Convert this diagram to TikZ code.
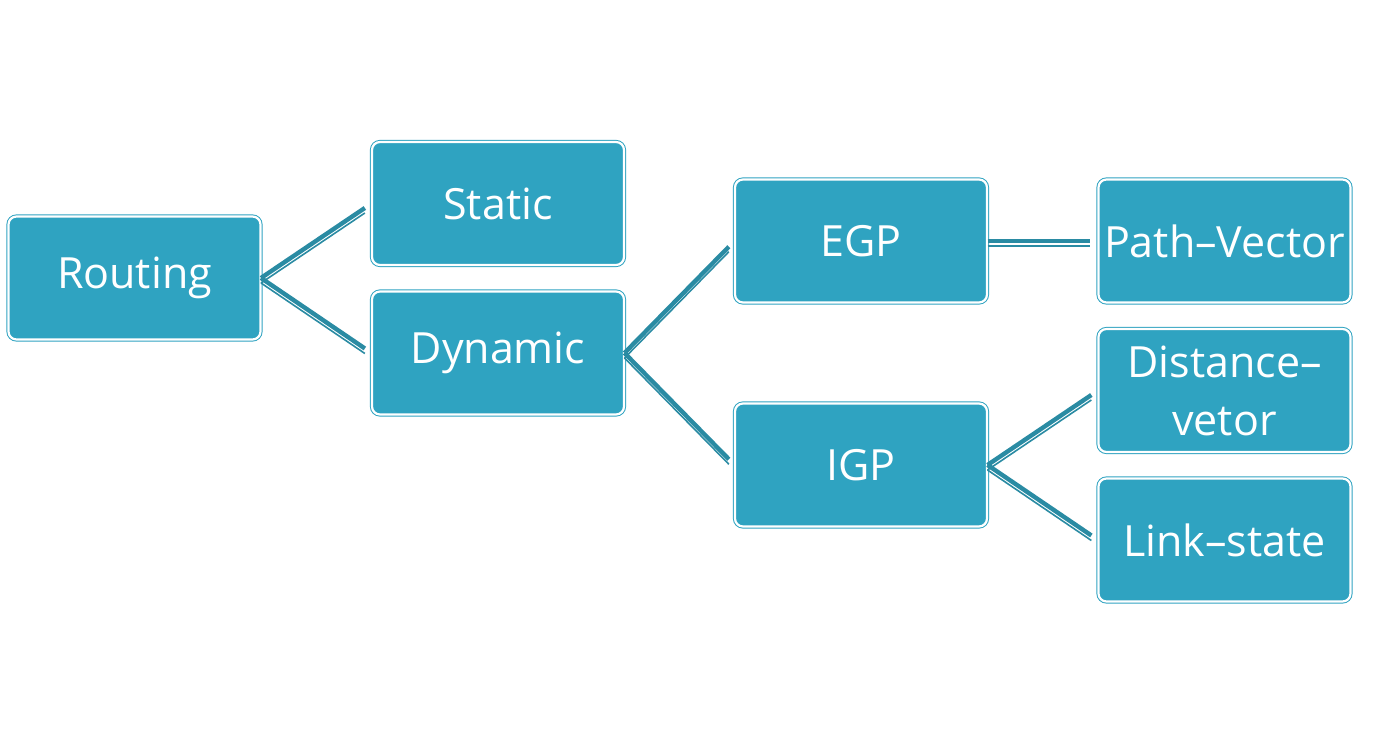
\documentclass[tikz,border=0pt]{standalone}
\usepackage{fontspec}
\setmainfont{Open Sans}
\usetikzlibrary{positioning}

\definecolor{boxfill}{HTML}{2FA3C1}
\definecolor{linkcol}{HTML}{2A8BA3}

\tikzset{
  item/.style={rectangle, rounded corners=4pt, fill=boxfill, draw=boxfill,
    double=white, double distance=1.1pt, line width=0.5pt,
    minimum width=126pt, minimum height=61.5pt, inner sep=0pt,
    text=white, align=center, font=\fontsize{21.5}{29}\selectfont},
  link/.style={draw=linkcol, line width=2.2pt, shorten >=4pt,
    postaction={draw=linkcol, line width=0.8pt, shorten >=4pt,
      transform canvas={yshift=-2.5pt}}}
}

\begin{document}
\begin{tikzpicture}[x=0.5pt,y=-0.5pt]
\useasboundingbox (0,0) rectangle (1378,742);

% first level
\node [item] (routing) at (134.5,278) {Routing};

% second level
\node [item] (static)  at (498,203.5) {Static};
\node [item] (dynamic) at (498,353)   {Dynamic};

% third level
\node [item] (egp) at (861,241) {EGP};
\node [item] (igp) at (861,465) {IGP};

% leaves
\node [item] (pathvec)   at (1224.5,241)   {Path–Vector};
\node [item] (distvec)   at (1224.5,390.5) {Distance–\\vetor};
\node [item] (linkstate) at (1224.5,540)   {Link–state};

\draw [link] (routing.east) -- (static.west);
\draw [link] (routing.east) -- (dynamic.west);
\draw [link] (dynamic.east) -- (egp.west);
\draw [link] (dynamic.east) -- (igp.west);
\draw [link] (egp.east) -- (pathvec.west);
\draw [link] (igp.east) -- (distvec.west);
\draw [link] (igp.east) -- (linkstate.west);

\end{tikzpicture}
\end{document}
